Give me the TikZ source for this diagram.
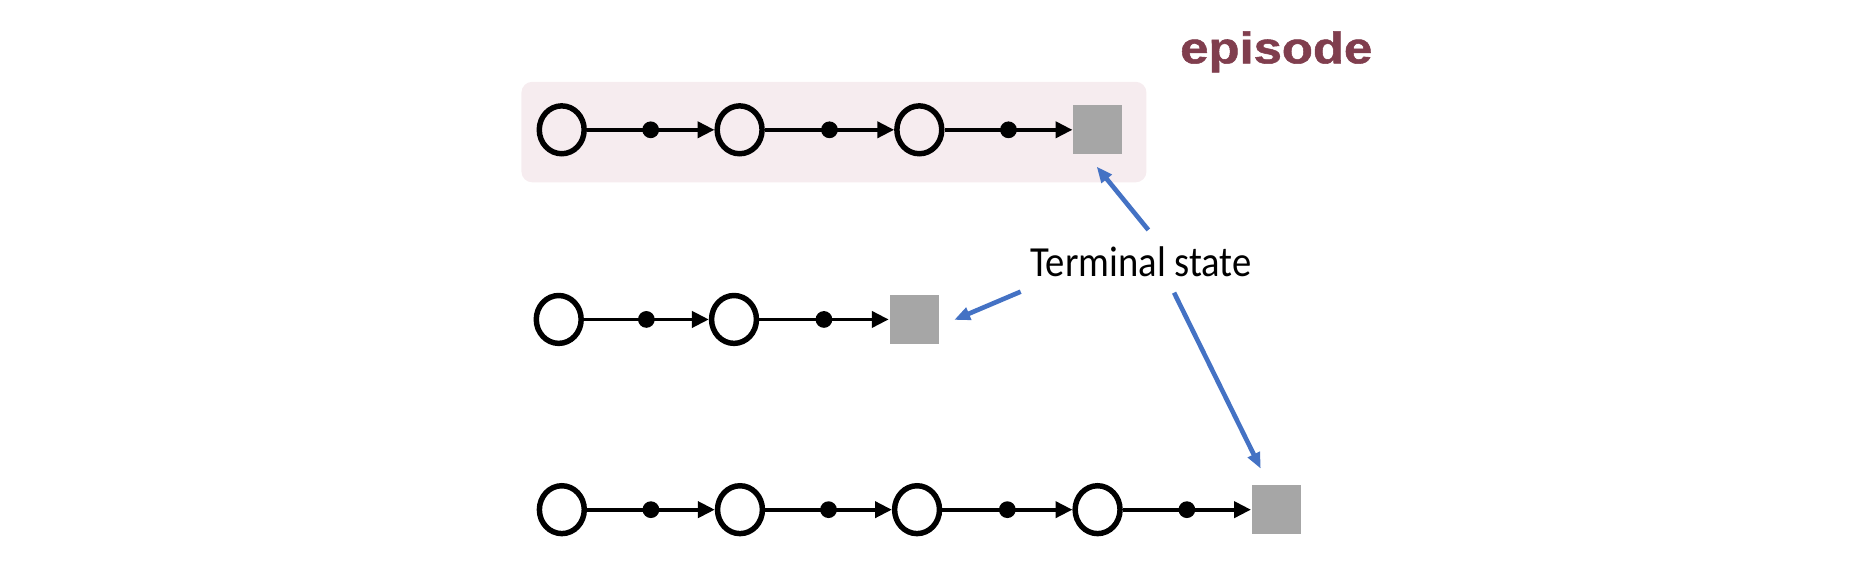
\documentclass[tikz,border=0pt]{standalone}
\usepackage{fontspec}
\usepackage{xcolor}
\usepackage{tikz}
\usetikzlibrary{arrows.meta,backgrounds,fit,shapes.geometric}
\newfontfamily\episodefont[FakeStretch=1.15,FakeBold=1.2]{Liberation Sans}
\newfontfamily\termfont[FakeStretch=0.9]{Carlito}
\definecolor{boxpink}{RGB}{246,236,239}
\definecolor{termgray}{RGB}{166,166,166}
\definecolor{noteblue}{RGB}{68,114,196}
\definecolor{episodered}{RGB}{128,62,78}

\begin{document}
\begin{tikzpicture}[
        x=0.01cm,y=-0.01cm,
        state/.style={draw,ellipse,line width=1.3pt,inner sep=0pt,minimum width=0.375cm,minimum height=0.4cm},
        terminal/.style={fill=termgray,inner sep=0pt,minimum size=0.41cm},
        actdot/.style={fill,circle,inner sep=0pt,minimum size=0.14cm},
        link/.style={-{Triangle[length=4pt,width=3.8pt]},line width=0.9pt},
        note/.style={-{Triangle[length=3.8pt,width=3pt]},line width=1.1pt,draw=noteblue},
        episodebox/.style={fill=boxpink,rounded corners=0.09cm,inner xsep=0.16cm,inner ysep=0.197cm}
    ]
        \useasboundingbox (0,0) rectangle (1568,473);

        \node[state] (a1) at (469.5,108.5) {};
        \node[state] (a2) at (618.2,108.5) {};
        \node[state] (a3) at (768.4,108.5) {};
        \node[terminal] (aT) at (917.6,108.5) {};

        \node[state] (b1) at (467,267) {};
        \node[state] (b2) at (613.5,267) {};
        \node[terminal] (bT) at (764,267) {};

        \node[state] (c1) at (469.6,426) {};
        \node[state] (c2) at (618.5,426) {};
        \node[state] (c3) at (766.5,426) {};
        \node[state] (c4) at (917.4,426) {};
        \node[terminal] (cT) at (1066.8,426) {};

        \draw[link] (a1) -- node[actdot] {} (a2);
        \draw[link] (a2) -- node[actdot] {} (a3);
        \draw[link] (a3) -- node[actdot] {} (aT);

        \draw[link] (b1) -- node[actdot] {} (b2);
        \draw[link] (b2) -- node[actdot] {} (bT);

        \draw[link] (c1) -- node[actdot] {} (c2);
        \draw[link] (c2) -- node[actdot] {} (c3);
        \draw[link] (c3) -- node[actdot] {} (c4);
        \draw[link] (c4) -- node[actdot] {} (cT);

        \node[anchor=base,inner sep=0pt,text=episodered,font=\episodefont\bfseries\fontsize{10.5}{12}\selectfont] (ep) at (1066.7,52.9) {episode};
        \node[anchor=base,inner sep=0pt,font=\termfont\fontsize{10.2}{12}\selectfont] (term) at (953.7,231.5) {Terminal state};

        \draw[note] ([shift={(6.1,-39.3)}]term.base) -- ([shift={(-1,9.5)}]aT.south);
        \draw[note] ([shift={(-100.6,12.3)}]term.base) -- ([shift={(12.3,0.4)}]bT.east);
        \draw[note] ([shift={(27.6,13.1)}]term.base) -- ([shift={(-13,-13)}]cT.north);

        \begin{scope}[on background layer]
            \node[episodebox,fit=(a1)(aT),xshift=0.034cm,yshift=-0.019cm] (ebox) {};
        \end{scope}
    \end{tikzpicture}
\end{document}
